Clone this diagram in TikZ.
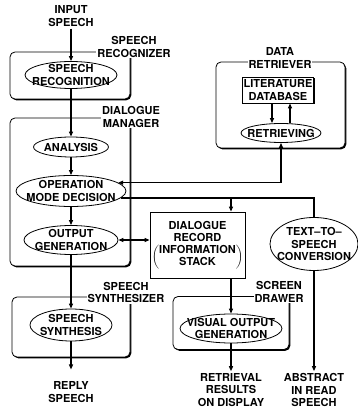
\documentclass[tikz,border=0pt]{standalone}
\usepackage{fontspec}
\setmainfont{TeX Gyre Heros}
\usetikzlibrary{shapes.geometric,shadows,arrows.meta}

\begin{document}
\begin{tikzpicture}[x=1pt, y=1pt, node distance=44pt,
  font=\fontsize{11}{12.5}\selectfont\bfseries,
  >={Triangle[length=5pt,width=4pt]},
  unit/.style={draw, rounded corners=5pt, fill=white, line width=0.8pt,
    drop shadow={shadow xshift=1.3pt, shadow yshift=-1.3pt, opacity=1, fill=black}},
  store/.style={draw, fill=white, line width=0.8pt, align=center, inner sep=1pt,
    drop shadow={shadow xshift=1.2pt, shadow yshift=-1.2pt, opacity=1, fill=black}},
  oval/.style={draw, ellipse, fill=white, line width=0.8pt, inner sep=0pt},
  tag/.style={align=center, fill=white, inner sep=1pt},
  txt/.style={align=center, inner sep=2pt},
  flow/.style={line width=1.2pt}]
\useasboundingbox (0,0) rectangle (358,410);

\node[unit, minimum width=120, minimum height=47] (recognizer) at (70,334.5) {};
\node[unit, minimum width=120, minimum height=148] (manager) at (70,218) {};
\node[unit, minimum width=129, minimum height=86] (retriever) at (280.5,305) {};
\node[unit, minimum width=118, minimum height=60] (synthesizer) at (71,83) {};
\node[unit, minimum width=116, minimum height=53] (drawer) at (231,87) {};

\node[txt] (input) at (71,394) {INPUT\\SPEECH};
\node[oval, minimum width=92, minimum height=27] (recog) at (71,335) {};
\node[txt] (recog-t) at (recog) {SPEECH\\RECOGNITION};

\node[oval, minimum width=75, minimum height=20] (analysis) at (71,263) {};
\node[txt] (analysis-t) at (analysis) {ANALYSIS};
\node[oval, minimum width=110, minimum height=31, below of=analysis] (decision) {};
\node[txt] (decision-t) at (decision) {OPERATION\\MODE DECISION};
\node[oval, minimum width=94, minimum height=29, below of=decision, yshift=-5pt] (outgen) {};
\node[txt] (outgen-t) at (outgen) {OUTPUT\\GENERATION};

\node[store, minimum width=71, minimum height=26] (litdb) at (278,320) {LITERATURE\\DATABASE};
\node[oval, minimum width=80, minimum height=19] (retrieving) at (281,277) {};
\node[txt] (retrieving-t) at (retrieving) {RETRIEVING};

\node[store, minimum width=95, minimum height=66] (record) at (197.5,165)
  {\begin{tabular}{@{}c@{}}DIALOGUE\\RECORD\\[-1pt]
   $\left(\begin{tabular}{@{}c@{}}INFORMATION\\STACK\end{tabular}\right)$\end{tabular}};
\node[oval, minimum width=88, minimum height=53] (tts) at (314,166) {};
\node[txt] (tts-t) at (tts) {TEXT--TO--\\SPEECH\\CONVERSION};

\node[oval, minimum width=82, minimum height=32] (synth) at (71,85) {};
\node[txt] (synth-t) at (synth) {SPEECH\\SYNTHESIS};
\node[oval, minimum width=102, minimum height=29] (visual) at (231,81.5) {};
\node[txt] (visual-t) at (visual) {VISUAL OUTPUT\\GENERATION};

\node[txt] (reply) at (71,18) {REPLY\\SPEECH};
\node[txt] (results) at (231,20) {RETRIEVAL\\RESULTS\\ON DISPLAY};
\node[txt] (abstract) at (314,20) {ABSTRACT\\IN READ\\SPEECH};

\draw[flow,->] (input) -- (recog);
\draw[flow,->] (recog) -- (analysis);
\draw[flow,->] (analysis) -- (decision);
\draw[flow,->] (decision) -- (outgen);
\draw[flow,->] (outgen) -- (synth);
\draw[flow,->] (synth) -- ([yshift=10pt]reply.north);
\draw[flow,->] ([xshift=-6pt]litdb.south) -- ([xshift=-9pt]retrieving.north);
\draw[flow,->] ([xshift=9pt]retrieving.north) -- ([xshift=12pt]litdb.south);
\draw[flow,<->] (retrieving.south) |- (decision.10);
\coordinate (split) at (visual.north |- decision.-8);
\draw[flow] (decision.-8) -| (tts.north);
\draw[flow,->] (split) -- (split |- record.north);
\draw[flow,<->] (outgen.east) -- (outgen.east -| record.west);
\draw[flow,->] (record.south -| visual.north) -- (visual.north);
\draw[flow,->] (visual) -- (results);
\draw[flow,->] (tts) -- (abstract);

\node[tag] (recognizer-l) at (134,363) {SPEECH\\RECOGNIZER};
\node[tag] (manager-l) at (131,293) {DIALOGUE\\MANAGER};
\node[tag] (retriever-l) at (280,352) {DATA\\RETRIEVER};
\node[tag] (synthesizer-l) at (126,117.5) {SPEECH\\SYNTHESIZER};
\node[tag] (drawer-l) at (279,118) {SCREEN\\DRAWER};
\end{tikzpicture}
\end{document}
